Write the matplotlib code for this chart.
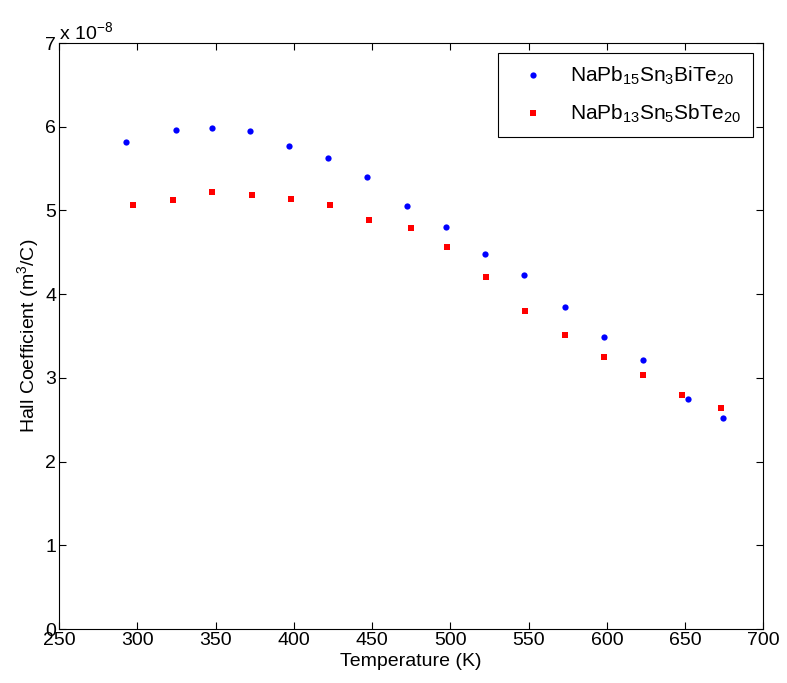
import numpy as np
import matplotlib
matplotlib.use("Agg")
import matplotlib.pyplot as plt
from matplotlib.ticker import FuncFormatter

plt.rcParams['font.family'] = ['Liberation Sans', 'DejaVu Sans']
plt.rcParams['mathtext.default'] = 'regular'

# data (Hall coefficient in m^3/C)
temp_bi = [293, 325, 348, 372, 397, 422, 447, 472, 497, 522, 547, 573, 598, 623, 652, 674]
hall_bi = np.array([5.82, 5.96, 5.99, 5.95, 5.77, 5.63, 5.40, 5.05, 4.80, 4.48,
                    4.23, 3.85, 3.49, 3.21, 2.75, 2.52]) * 1e-8
temp_sb = [297, 323, 348, 373, 398, 423, 448, 475, 498, 523, 548, 573, 598, 623, 648, 673]
hall_sb = np.array([5.07, 5.13, 5.22, 5.18, 5.14, 5.07, 4.89, 4.79, 4.56, 4.20,
                    3.80, 3.51, 3.25, 3.04, 2.80, 2.64]) * 1e-8

label_bi = r'NaPb$_{15}$Sn$_3$BiTe$_{20}$'
label_sb = r'NaPb$_{13}$Sn$_5$SbTe$_{20}$'

fs = 14

fig = plt.figure(figsize=(7.87, 6.83), dpi=100)
ax = fig.add_axes([0.075, 0.079, 0.895, 0.858])

ax.plot(temp_bi, hall_bi, 'o', color='#0000ff', markersize=4.5, markeredgewidth=0, label=label_bi)
ax.plot(temp_sb, hall_sb, 's', color='#ff0000', markersize=4.3, markeredgewidth=0, label=label_sb)

ax.set_xlim(250, 700)
ax.set_ylim(0, 7e-8)
ax.set_xticks(np.arange(250, 701, 50))
ax.set_yticks(np.arange(0, 8e-8, 1e-8))
ax.yaxis.set_major_formatter(FuncFormatter(lambda v, p: f'{v / 1e-8:g}'))
ax.tick_params(direction='in', top=True, right=True, labelsize=fs, length=5, width=0.8, pad=2)
for s in ax.spines.values():
    s.set_linewidth(0.8)

ax.text(0.0, 1.0, r'x 10$^{-8}$', transform=ax.transAxes, fontsize=fs, ha='left', va='bottom')

ax.set_xlabel('Temperature (K)', fontsize=fs, labelpad=3)
ax.set_ylabel('Hall Coefficient (m$^3$/C)', fontsize=fs, labelpad=3)

leg = ax.legend(loc='upper right', fontsize=15, frameon=True, fancybox=False,
                edgecolor='black', framealpha=1, borderaxespad=0.5,
                handletextpad=0.7, handlelength=2.2, labelspacing=0.75, borderpad=0.55)
leg.get_frame().set_linewidth(0.8)

fig.savefig('out.png', dpi=100)
